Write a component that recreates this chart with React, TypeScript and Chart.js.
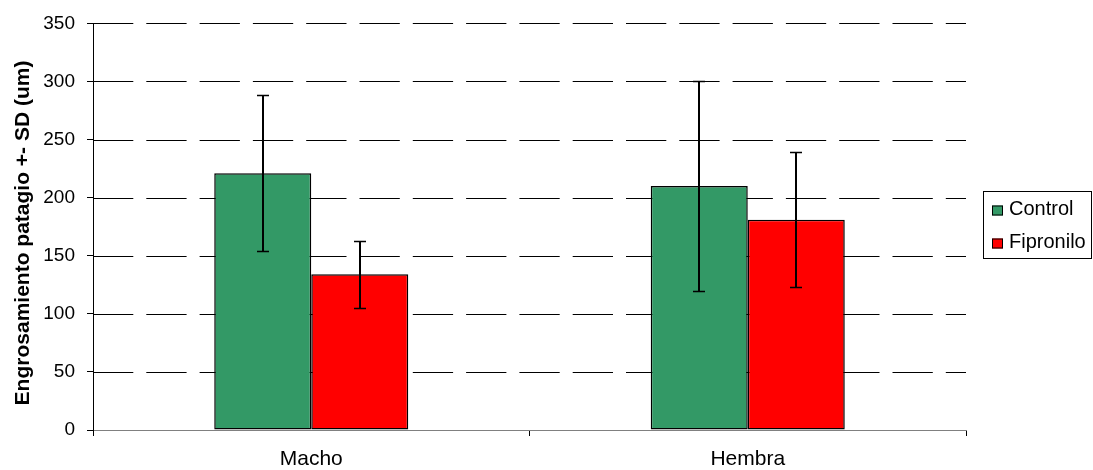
import React, { useEffect, useRef } from "react";
import { Chart, registerables } from "chart.js";

Chart.register(...registerables);

const categories = ["Macho", "Hembra"];
const seriesLabels = ["Control", "Fipronilo"];
const controlMean = [221, 210];
const controlSD = [67, 90];
const fipronilMean = [134, 181];
const fipronilSD = [29, 58];
const seriesColors = ["#339966", "#FF0000"];
const yMin = 0;
const yMax = 350;
const yStep = 50;
const yTitle = "Engrosamiento patagio +- SD (um)";

const FONT = "'Liberation Sans', Arial, sans-serif";
const sdSeries = [controlSD, fipronilSD];

const dashedGridPlugin = {
  id: "dashedGrid",
  beforeDatasetsDraw(chart: any) {
    const { ctx, chartArea } = chart;
    const yScale = chart.scales.y;
    ctx.save();
    ctx.strokeStyle = "#000";
    ctx.lineWidth = 1;
    ctx.setLineDash([40.3, 13]);
    ctx.lineDashOffset = 0;
    yScale.ticks.forEach((t: any) => {
      if (t.value === yMin) return;
      const y = Math.round(yScale.getPixelForValue(t.value)) + 0.5;
      ctx.beginPath();
      ctx.moveTo(chartArea.left, y);
      ctx.lineTo(chartArea.right, y);
      ctx.stroke();
    });
    ctx.restore();
  },
};

const errorBarPlugin = {
  id: "errorBars",
  afterDatasetsDraw(chart: any) {
    const { ctx } = chart;
    const yScale = chart.scales.y;
    chart.data.datasets.forEach((ds: any, i: number) => {
      const meta = chart.getDatasetMeta(i);
      meta.data.forEach((bar: any, j: number) => {
        const v = ds.data[j];
        const sd = sdSeries[i][j];
        const x = Math.round(bar.x);
        const yt = Math.round(yScale.getPixelForValue(v + sd)) + 0.5;
        const yb = Math.round(yScale.getPixelForValue(v - sd)) + 0.5;
        ctx.save();
        ctx.strokeStyle = "#000";
        ctx.lineWidth = 2;
        ctx.beginPath();
        ctx.moveTo(x, yt);
        ctx.lineTo(x, yb);
        ctx.stroke();
        ctx.lineWidth = 1.3;
        ctx.beginPath();
        ctx.moveTo(x - 6, yt);
        ctx.lineTo(x + 6, yt);
        ctx.moveTo(x - 6, yb);
        ctx.lineTo(x + 6, yb);
        ctx.stroke();
        ctx.restore();
      });
    });
  },
};

const titleAndLegendPlugin = {
  id: "titleAndLegend",
  afterDraw(chart: any) {
    const { ctx } = chart;
    ctx.save();
    // y-axis title
    ctx.translate(23, 233);
    ctx.rotate(-Math.PI / 2);
    ctx.fillStyle = "#000";
    ctx.font = `bold 21px ${FONT}`;
    ctx.textAlign = "center";
    ctx.textBaseline = "middle";
    ctx.fillText(yTitle, 0, 0);
    ctx.restore();

    ctx.save();
    ctx.strokeStyle = "#000";
    ctx.lineWidth = 1;
    ctx.strokeRect(983.5, 191.5, 108, 67);
    chart.data.datasets.forEach((ds: any, i: number) => {
      const cy = 210.5 + i * 33;
      ctx.fillStyle = ds.backgroundColor;
      ctx.fillRect(992, cy - 5, 11, 10);
      ctx.strokeStyle = "#000";
      ctx.lineWidth = 1;
      ctx.strokeRect(992.5, cy - 4.5, 10, 9);
      ctx.fillStyle = "#000";
      ctx.font = `20px ${FONT}`;
      ctx.textBaseline = "middle";
      ctx.textAlign = "left";
      ctx.fillText(ds.label, 1009, cy - 1);
    });
    ctx.restore();
  },
};

export default function App() {
  const ref = useRef<HTMLCanvasElement>(null);
  useEffect(() => {
    document.body.style.margin = "0";
    const canvas = ref.current;
    if (!canvas) return;
    const chart = new Chart(canvas, {
      type: "bar",
      data: {
        labels: categories,
        datasets: [
          {
            label: seriesLabels[0],
            data: controlMean,
            backgroundColor: seriesColors[0],
            borderColor: "#000",
            borderWidth: 1.5,
            borderSkipped: false,
          },
          {
            label: seriesLabels[1],
            data: fipronilMean,
            backgroundColor: seriesColors[1],
            borderColor: "#000",
            borderWidth: 1.5,
            borderSkipped: false,
          },
        ],
      },
      options: {
        responsive: false,
        animation: false,
        layout: { padding: { left: 0, right: 127, top: 23, bottom: 0 } },
        datasets: { bar: { categoryPercentage: 0.4445, barPercentage: 1 } },
        plugins: {
          legend: { display: false },
          tooltip: { enabled: false },
        },
        scales: {
          x: {
            afterFit: (s: any) => {
              s.height = 40;
            },
            grid: {
              display: true,
              drawOnChartArea: false,
              offset: true,
              color: "#000",
              tickColor: "#000",
              tickLength: 6,
            },
            border: { display: true, color: "#808080", width: 1 },
            ticks: {
              color: "#000",
              font: { family: FONT, size: 21 },
              padding: 11,
            },
          },
          y: {
            min: yMin,
            max: yMax,
            afterFit: (s: any) => {
              s.width = 93;
            },
            ticks: {
              stepSize: yStep,
              color: "#000",
              font: { family: FONT, size: 19 },
              padding: 12,
            },
            grid: {
              drawOnChartArea: false,
              color: "#000",
              tickColor: "#000",
              tickLength: 6,
              lineWidth: 1,
            },
            border: { display: true, color: "#000", width: 1 },
            title: { display: false },
          },
        },
      },
      plugins: [dashedGridPlugin, errorBarPlugin, titleAndLegendPlugin],
    });
    return () => chart.destroy();
  }, []);
  return (
    <div style={{ width: 1093, height: 470 }}>
      <canvas ref={ref} width={1093} height={470} style={{ display: "block" }} />
    </div>
  );
}
